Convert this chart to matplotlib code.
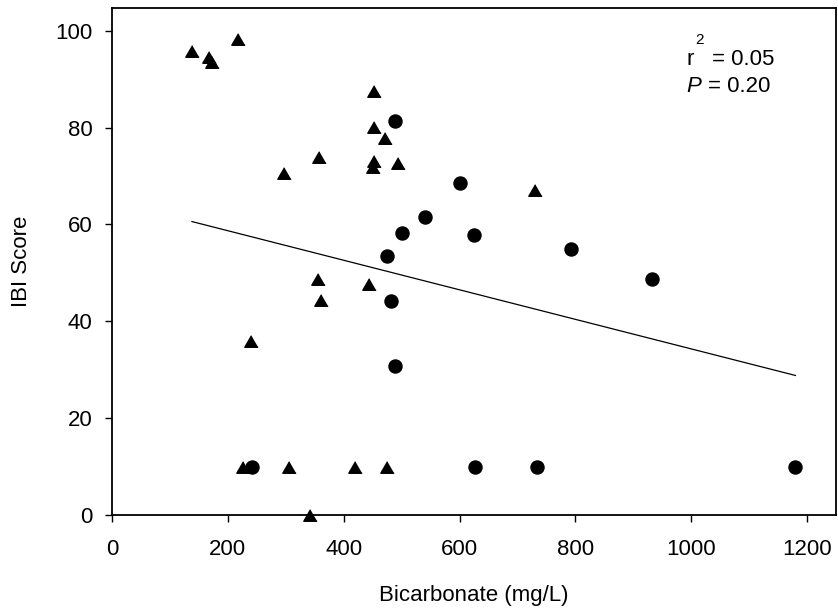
import numpy as np
import matplotlib
matplotlib.use("Agg")
import matplotlib.pyplot as plt

plt.rcParams['font.family'] = ['Liberation Sans', 'DejaVu Sans']

# Triangles (group 1)
tri_x = [138, 167, 172, 217, 452, 453, 472, 452, 450, 494, 357, 297, 730,
         356, 443, 361, 240, 226, 305, 420, 475, 342]
tri_y = [95.8, 94.5, 93.5, 98.2, 87.5, 80.2, 77.8, 73.0, 71.8, 72.6, 74.0, 70.7, 67.1,
         48.7, 47.7, 44.4, 36.0, 10.0, 10.0, 10.0, 10.0, 0.0]
# Circles (group 2)
cir_x = [489, 540, 500, 475, 600, 625, 792, 932, 481, 488, 241, 626, 733, 1180]
cir_y = [81.4, 61.5, 58.2, 53.5, 68.6, 57.8, 54.9, 48.7, 44.2, 30.8, 10.0, 10.0, 10.0, 10.0]

# Regression line
reg_intercept = 64.8
reg_slope = -0.0305
reg_xrange = [138, 1180]

x_ticks = [0, 200, 400, 600, 800, 1000, 1200]
y_ticks = [0, 20, 40, 60, 80, 100]
r2_text = "= 0.05"
p_text = "= 0.20"

W, H = 838, 609
fig = plt.figure(figsize=(W / 100, H / 100), dpi=100)
L, R, T, B = 112, 836, 7.5, 515
ax = fig.add_axes([L / W, 1 - B / H, (R - L) / W, (B - T) / H])

tri_marker = [(0, 0.866), (-1, -0.866), (1, -0.866)]
ax.plot(tri_x, tri_y, linestyle='none', marker=tri_marker, ms=9.6, color='black',
        clip_on=False, zorder=3)
ax.plot(cir_x, cir_y, linestyle='none', marker='o', ms=9.4, color='black',
        clip_on=False, zorder=3)

lx = np.array(reg_xrange, dtype=float)
ax.plot(lx, reg_intercept + reg_slope * lx, color='black', lw=0.9)

ax.set_xlim(0, 1250)
ax.set_ylim(0, (B - T) / 4.843)
ax.set_xticks(x_ticks)
ax.set_yticks(y_ticks)
ax.tick_params(direction='out', length=5, width=1.0, labelsize=16,
               top=False, right=False)
ax.tick_params(axis='x', pad=12)
ax.tick_params(axis='y', pad=9)
for s in ax.spines.values():
    s.set_linewidth(1.3)

ax.set_xlabel("Bicarbonate (mg/L)", fontsize=16, labelpad=18)
ax.set_ylabel("IBI Score", fontsize=16, labelpad=17)

def fx(px):
    return px / W

def fy(py):
    return 1 - py / H

fig.text(fx(686), fy(65), "r", fontsize=16, va='baseline')
fig.text(fx(695.5), fy(43.5), "2", fontsize=11, va='baseline')
fig.text(fx(712), fy(65), r2_text, fontsize=16, va='baseline')
fig.text(fx(686.5), fy(91.7), "P", fontsize=16, va='baseline', fontstyle='italic')
fig.text(fx(707.5), fy(91.7), p_text, fontsize=16, va='baseline')

fig.savefig("out.png", dpi=100)
